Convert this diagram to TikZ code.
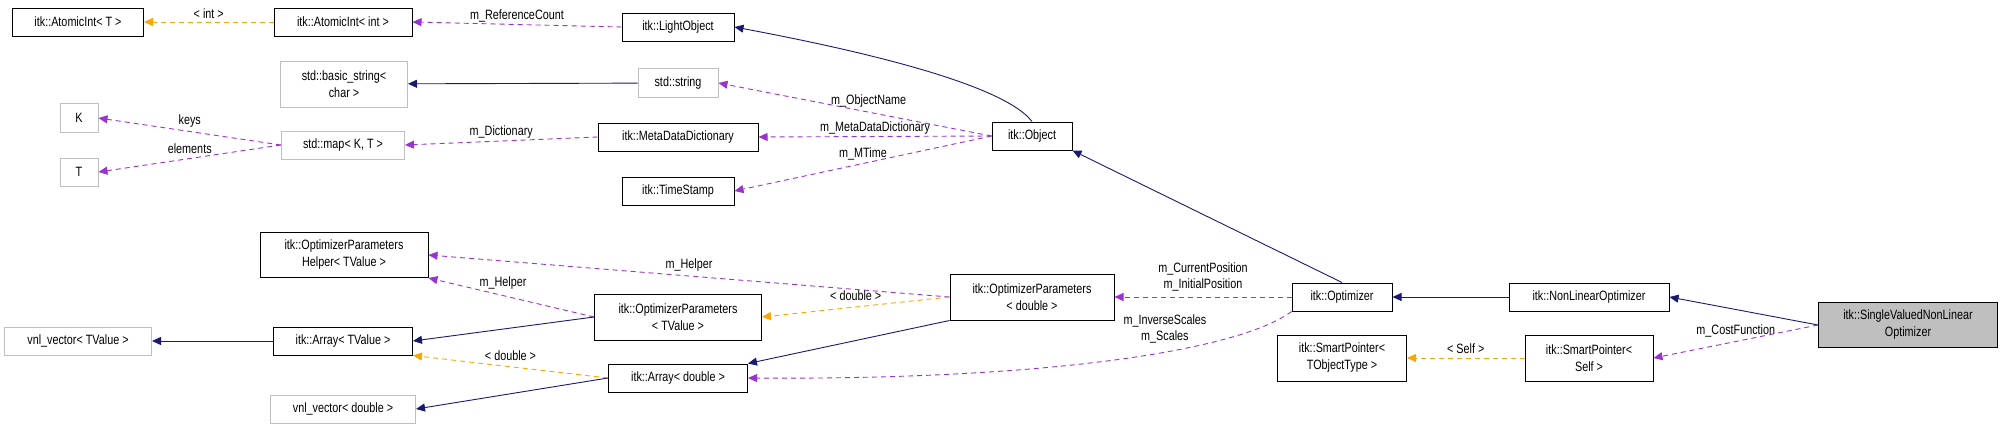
\documentclass[tikz,border=0pt]{standalone}
\usepackage{fontspec}
\setmainfont{Liberation Sans}[FakeStretch=0.8]
\usetikzlibrary{arrows.meta}
\definecolor{navy}{HTML}{191970}
\definecolor{purp}{HTML}{9A32CD}
\definecolor{orng}{HTML}{FFA500}
\definecolor{gry}{HTML}{BFBFBF}
\begin{document}
\begin{tikzpicture}[x=1pt,y=-1pt,
  font=\fontsize{13.5}{17}\selectfont,
  box/.style={draw=black,line width=1pt,inner sep=1pt,align=center,fill=white},
  gbox/.style={draw=gry,line width=1pt,inner sep=1pt,align=center,fill=white},
  inh/.style={draw=navy,line width=0.9pt,-{Triangle[length=9pt,width=8pt]}},
  use/.style={draw=purp,line width=0.9pt,dash pattern=on 5pt off 4pt,-{Triangle[length=9pt,width=8pt]}},
  tpl/.style={draw=orng,line width=0.9pt,dash pattern=on 5pt off 4pt,-{Triangle[length=9pt,width=8pt]}},
  lab/.style={inner sep=0pt,font=\fontsize{13.5}{16}\selectfont,align=center}]
\useasboundingbox (0,0) rectangle (2000,429);
% nodes
\node[box,minimum width=131,minimum height=28] (aiT) at (78,22) {itk::AtomicInt< T >};
\node[box,minimum width=138,minimum height=28] (aiI) at (343,22) {itk::AtomicInt< int >};
\node[box,minimum width=112,minimum height=28] (lo) at (678,27) {itk::LightObject};
\node[gbox,minimum width=127,minimum height=46] (bs) at (344,84) {std::basic\_string<\\char >};
\node[gbox,minimum width=80,minimum height=29] (str) at (678,83) {std::string};
\node[gbox,minimum width=38,minimum height=29] (K) at (79,118) {K};
\node[gbox,minimum width=38,minimum height=28] (T) at (79,172) {T};
\node[gbox,minimum width=123,minimum height=28] (map) at (343,145) {std::map< K, T >};
\node[box,minimum width=160,minimum height=28] (mdd) at (678,137) {itk::MetaDataDictionary};
\node[box,minimum width=80,minimum height=28] (obj) at (1032,136) {itk::Object};
\node[box,minimum width=112,minimum height=28] (ts) at (678,191) {itk::TimeStamp};
\node[box,minimum width=168,minimum height=45] (hlp) at (344,255) {itk::OptimizerParameters\\Helper< TValue >};
\node[box,minimum width=167,minimum height=46] (opT) at (678,317) {itk::OptimizerParameters\\< TValue >};
\node[box,minimum width=139,minimum height=28] (arT) at (343,341) {itk::Array< TValue >};
\node[gbox,minimum width=147,minimum height=28] (vT) at (78,341) {vnl\_vector< TValue >};
\node[box,minimum width=139,minimum height=28] (arD) at (678,378) {itk::Array< double >};
\node[gbox,minimum width=145,minimum height=28] (vD) at (343,409) {vnl\_vector< double >};
\node[box,minimum width=164,minimum height=46] (opD) at (1032,297) {itk::OptimizerParameters\\< double >};
\node[box,minimum width=100,minimum height=28] (opt) at (1342,297) {itk::Optimizer};
\node[box,minimum width=160,minimum height=28] (nlo) at (1589,297) {itk::NonLinearOptimizer};
\node[box,fill=gry,minimum width=179,minimum height=45] (svo) at (1908,325) {itk::SingleValuedNonLinear\\Optimizer};
\node[box,minimum width=129,minimum height=46] (spT) at (1342,358) {itk::SmartPointer<\\TObjectType >};
\node[box,minimum width=128,minimum height=46] (spS) at (1589,358) {itk::SmartPointer<\\Self >};
% edges
\draw[tpl] (aiI) -- node[lab,above=3pt]{< int >} (aiT);
\draw[use] (lo.west) -- node[lab,above=2pt]{m\_ReferenceCount} (aiI.east);
\draw[inh] (obj.north) .. controls (1000,80) and (830,45) .. (lo.east);
\draw[inh] (str) -- (bs);
\draw[use] (obj.west) -- node[lab,above=4pt,pos=0.45]{m\_ObjectName} (str.east);
\draw[use] (obj.west) -- node[lab,above=2pt]{m\_MetaDataDictionary} (mdd.east);
\draw[use] (obj.west) -- node[lab,above=3pt,pos=0.5]{m\_MTime} (ts.east);
\draw[use] (mdd.west) -- node[lab,above=2pt]{m\_Dictionary} (map.east);
\draw[use] (map.west) -- node[lab,above=4pt]{keys} (K.east);
\draw[use] (map.west) -- node[lab,above=4pt]{elements} (T.east);
\draw[inh] (opt.north) -- (obj.south east);
\draw[use] (opt.west) -- node[lab,above=5pt]{m\_CurrentPosition\\m\_InitialPosition} (opD.east);
\draw[use] (opD.west) -- node[lab,above=4pt]{m\_Helper} (hlp.east);
\draw[use] (opT.west) -- node[lab,above=6pt,pos=0.55]{m\_Helper} (hlp.south east);
\draw[tpl] (opD.west) -- node[lab,above=6pt]{< double >} (opT.east);
\draw[inh] (opT.west) -- (arT.east);
\draw[inh] (arT) -- (vT);
\draw[tpl] (arD.west) -- node[lab,above=6pt]{< double >} (arT.south east);
\draw[inh] (arD.west) -- (vD.east);
\draw[inh] (opD.south west) -- (arD.north east);
\draw[use] (opt.south west) .. controls (1240,350) and (1050,380) .. node[lab,pos=0.4,above=8pt]{m\_InverseScales\\m\_Scales} (arD.east);
\draw[inh] (nlo) -- (opt);
\draw[inh] (svo.west) -- (nlo.east);
\draw[use] (svo.west) -- node[lab,above=4pt]{m\_CostFunction} (spS.east);
\draw[tpl] (spS) -- node[lab,above=4pt]{< Self >} (spT);
\end{tikzpicture}
\end{document}
